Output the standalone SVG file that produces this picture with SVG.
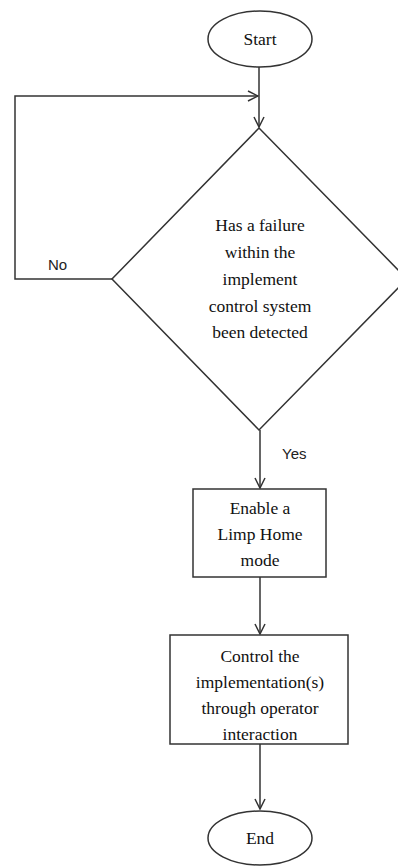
<svg xmlns="http://www.w3.org/2000/svg" width="398" height="868" viewBox="0 0 398 868">
<defs>
<marker id="arr" viewBox="0 0 12 12" refX="11" refY="6" markerWidth="12" markerHeight="12" markerUnits="userSpaceOnUse" orient="auto">
<path d="M1,1 L11,6 L1,11" fill="none" stroke="#333" stroke-width="1.5"/>
</marker>
<style>
.shape{fill:#fff;stroke:#333;stroke-width:1.5}
.line{fill:none;stroke:#333;stroke-width:1.5}
.t{font-family:"Liberation Serif","Times New Roman",serif;font-size:17.5px;fill:#111;text-anchor:middle}
.lbl{font-family:"Liberation Sans",Arial,sans-serif;font-size:15px;fill:#222}
</style>
</defs>
<rect width="398" height="868" fill="#fff"/>
<g id="connectors">
<path class="line" d="M259,66 L259,127" marker-end="url(#arr)"/>
<path class="line" d="M112,279 L15,279 L15,96 L258,96" marker-end="url(#arr)"/>
<path class="line" d="M260,430 L260,488" marker-end="url(#arr)"/>
<path class="line" d="M260,577 L260,634" marker-end="url(#arr)"/>
<path class="line" d="M260,744 L260,809" marker-end="url(#arr)"/>
<text class="lbl" x="48" y="270">No</text>
<text class="lbl" x="282" y="459">Yes</text>
</g>
<g id="start">
<ellipse class="shape" cx="260" cy="39" rx="52" ry="28"/>
<text class="t" x="260" y="45">Start</text>
</g>
<g id="decision">
<polygon class="shape" points="259,128 407,279 259,430 112,279"/>
<text class="t" x="260" y="231">Has a failure</text>
<text class="t" x="260" y="258">within the</text>
<text class="t" x="260" y="285">implement</text>
<text class="t" x="260" y="312">control system</text>
<text class="t" x="260" y="338">been detected</text>
</g>
<g id="limp">
<rect class="shape" x="193" y="489" width="133" height="88"/>
<text class="t" x="260" y="514">Enable a</text>
<text class="t" x="260" y="540">Limp Home</text>
<text class="t" x="260" y="566">mode</text>
</g>
<g id="control">
<rect class="shape" x="170" y="635" width="178" height="109"/>
<text class="t" x="260" y="662">Control the</text>
<text class="t" x="260" y="688">implementation(s)</text>
<text class="t" x="260" y="714">through operator</text>
<text class="t" x="260" y="740">interaction</text>
</g>
<g id="end">
<ellipse class="shape" cx="260" cy="838" rx="52" ry="27"/>
<text class="t" x="260" y="844">End</text>
</g>
</svg>
